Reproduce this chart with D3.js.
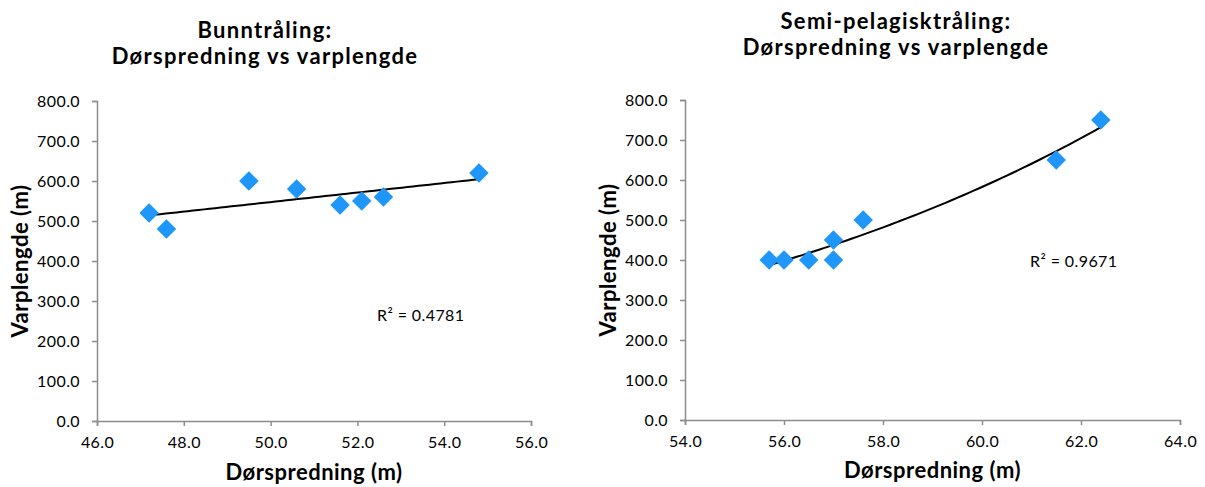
<!DOCTYPE html>
<html><head><meta charset="utf-8">
<script src="https://cdn.jsdelivr.net/npm/d3@7"></script>
<style>body{margin:0;background:#fff}svg{font-family:Lato,"Open Sans",sans-serif}</style>
</head><body>
<svg id="c" width="1205" height="487"></svg>
<script>
// Data
const bunnX = [47.2, 47.6, 49.5, 50.6, 51.6, 52.1, 52.6, 54.8];
const bunnY = [520, 480, 600, 580, 540, 550, 560, 620];
const semiX = [55.7, 56.0, 56.5, 57.0, 57.0, 57.6, 61.5, 62.4];
const semiY = [400, 400, 400, 400, 450, 500, 650, 750];
const yTicks = [0, 100, 200, 300, 400, 500, 600, 700, 800];
const bunnXTicks = [46, 48, 50, 52, 54, 56];
const semiXTicks = [54, 56, 58, 60, 62, 64];
const titles = [["Bunntråling:", "Dørspredning vs varplengde"], ["Semi-pelagisktråling:", "Dørspredning vs varplengde"]];
const r2Labels = ["R² = 0.4781", "R² = 0.9671"];

const svg = d3.select("#c");
const grey = "#8c8c8c", blue = "#1e96fa";

function linFit(xs, ys){
  const n=xs.length, mx=d3.mean(xs), my=d3.mean(ys);
  let sxy=0,sxx=0; for(let i=0;i<n;i++){sxy+=(xs[i]-mx)*(ys[i]-my);sxx+=(xs[i]-mx)**2;}
  const b=sxy/sxx; return x=>my+b*(x-mx);
}
function expFit(xs, ys){
  const f=linFit(xs, ys.map(Math.log)); return x=>Math.exp(f(x));
}

function chart(cfg){
  const g = svg.append("g");
  const x = d3.scaleLinear().domain(cfg.xDom).range([cfg.left, cfg.right]);
  const y = d3.scaleLinear().domain([0,800]).range([cfg.bottom, cfg.top]);
  const ya = g.append("g").attr("transform",`translate(${cfg.left},0)`)
    .call(d3.axisLeft(y).tickValues(yTicks).tickFormat(d3.format(".1f")).tickSize(5).tickPadding(12));
  const xa = g.append("g").attr("transform",`translate(0,${cfg.bottom})`)
    .call(d3.axisBottom(x).tickValues(cfg.xTicks).tickFormat(d3.format(".1f")).tickSize(5).tickPadding(8));
  [ya,xa].forEach(a=>{
    a.select(".domain").attr("stroke",grey).attr("stroke-width",1.5);
    a.selectAll(".tick line").attr("stroke",grey).attr("stroke-width",1.5);
    a.selectAll(".tick text").attr("fill","#000").style("font-size","16px").style("font-family","Lato").style("letter-spacing","0.4px");
  });
  xa.selectAll(".tick text").attr("dy","0.9em");
  // trendline
  const xs0=d3.min(cfg.xs), xs1=d3.max(cfg.xs);
  const pts=d3.range(0,61).map(i=>xs0+(xs1-xs0)*i/60);
  g.append("path").attr("d", d3.line().x(d=>x(d)).y(d=>y(cfg.fit(d)))(pts))
    .attr("fill","none").attr("stroke","#000").attr("stroke-width",2);
  // points
  const sym = d3.symbol().type(d3.symbolSquare).size(190);
  g.selectAll(".pt").data(cfg.xs.map((v,i)=>[v,cfg.ys[i]])).join("path")
    .attr("d", sym).attr("fill", blue)
    .attr("transform", d=>`translate(${x(d[0])},${y(d[1])}) rotate(45)`);
  // titles
  g.append("text").attr("x",cfg.tx).attr("y",cfg.ty).attr("text-anchor","middle")
    .style("font-size","22px").style("font-weight","bold").style("letter-spacing","1.3px")
    .selectAll("tspan").data(cfg.title).join("tspan")
    .attr("x",cfg.tx).attr("dy",(d,i)=>i?26:0).text(d=>d);
  g.append("text").attr("x",(cfg.left+cfg.right)/2).attr("y",cfg.bottom+cfg.xTitleOff).attr("text-anchor","middle")
    .style("font-size","22px").style("font-weight","bold").style("letter-spacing","0.5px").text("Dørspredning (m)");
  g.append("text").attr("transform",`translate(${cfg.yTitleX},${(cfg.top+cfg.bottom)/2}) rotate(-90)`)
    .attr("text-anchor","middle").style("font-size","22px").style("font-weight","bold").style("letter-spacing","0.5px").text("Varplengde (m)");
  g.append("text").attr("x",cfg.r2x).attr("y",cfg.r2y).style("font-size","16px").style("letter-spacing","0.4px").text(cfg.r2);
}

chart({xs:bunnX, ys:bunnY, fit:linFit(bunnX,bunnY), xDom:[46,56], xTicks:bunnXTicks,
  left:97, right:531, top:101, bottom:421, title:titles[0], tx:265, ty:38, yTitleX:28, xTitleOff:59,
  r2:r2Labels[0], r2x:377, r2y:321});
chart({xs:semiX, ys:semiY, fit:expFit(semiX,semiY), xDom:[54,64], xTicks:semiXTicks,
  left:685, right:1180, top:100, bottom:420, title:titles[1], tx:896, ty:29, yTitleX:616, xTitleOff:58,
  r2:r2Labels[1], r2x:1030, r2y:267});
</script>
</body></html>
